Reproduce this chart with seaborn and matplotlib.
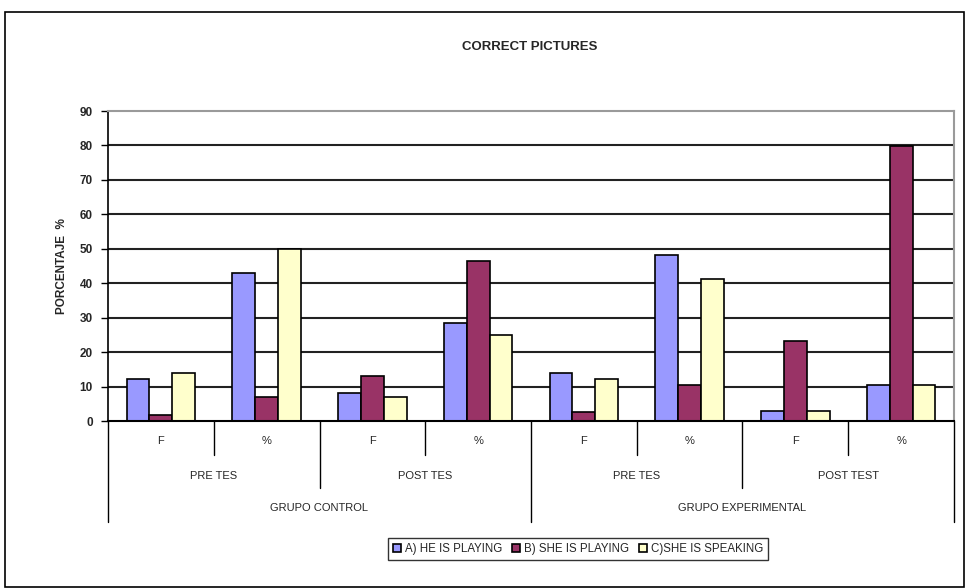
import pandas as pd
import numpy as np
import matplotlib.pyplot as plt
import seaborn as sns
from matplotlib.patches import Rectangle

# values
categories = ['GC-PRE-F', 'GC-PRE-%', 'GC-POST-F', 'GC-POST-%',
              'GE-PRE-F', 'GE-PRE-%', 'GE-POST-F', 'GE-POST-%']
level1 = ['F', '%', 'F', '%', 'F', '%', 'F', '%']
level2 = ['PRE TES', 'POST TES', 'PRE TES', 'POST TEST']
level3 = ['GRUPO CONTROL', 'GRUPO EXPERIMENTAL']
series = ['A) HE IS PLAYING', 'B) SHE IS PLAYING', 'C)SHE IS SPEAKING']
he_playing = [12.2, 43, 8, 28.5, 14, 48.3, 2.8, 10.5]
she_playing = [1.6, 6.9, 13, 46.5, 2.7, 10.5, 23.3, 79.8]
she_speaking = [13.9, 49.8, 7, 25, 12.3, 41.2, 2.8, 10.5]
colors = ['#9999FF', '#993366', '#FFFFCC']

df = pd.DataFrame({
    'cat': categories * 3,
    'serie': [series[0]] * 8 + [series[1]] * 8 + [series[2]] * 8,
    'val': he_playing + she_playing + she_speaking,
})

sns.set_style('white')
plt.rcParams['font.family'] = ['Liberation Sans', 'DejaVu Sans']

fig = plt.figure(figsize=(9.69, 5.88), dpi=100)
ax = fig.add_axes([108 / 969, 1 - 421 / 588, 846 / 969, 310 / 588])

sns.barplot(data=df, x='cat', y='val', hue='serie', order=categories,
            hue_order=series, palette=colors, saturation=1, edgecolor='black',
            linewidth=1.2, width=0.65, ax=ax, errorbar=None)

ax.set_ylim(0, 90)
ax.set_xlim(-0.5, 7.5)
ax.set_yticks(range(0, 91, 10))
ax.set_yticklabels([str(v) for v in range(0, 91, 10)], fontsize=8.5,
                   fontweight='bold')
ax.tick_params(axis='y', length=5, width=1, color='black', direction='out',
               left=True, pad=6)
ax.set_xticks([])
ax.set_xlabel('')
ax.set_ylabel('PORCENTAJE  %', fontsize=8.5, fontweight='bold', labelpad=8)
for y in range(10, 90, 10):
    ax.axhline(y, color='#222222', linewidth=1.5, zorder=0)
ax.set_axisbelow(True)
ax.spines['left'].set_color('black')
ax.spines['left'].set_linewidth(1.2)
ax.spines['bottom'].set_color('black')
ax.spines['bottom'].set_linewidth(1.5)
ax.spines['top'].set_color('#9a9a9a')
ax.spines['right'].set_color('#9a9a9a')
ax.spines['top'].set_linewidth(1.5)
ax.spines['right'].set_linewidth(1.5)
ax.legend_.remove()

# hierarchical category axis
tr = ax.get_xaxis_transform()
for i, lab in enumerate(level1):
    ax.text(i, -0.065, lab, transform=tr, ha='center', va='center', fontsize=8)
for j, lab in enumerate(level2):
    ax.text(2 * j + 0.5, -0.177, lab, transform=tr, ha='center', va='center',
            fontsize=8)
for k, lab in enumerate(level3):
    ax.text(4 * k + 1.5, -0.28, lab, transform=tr, ha='center', va='center',
            fontsize=8)
for x in np.arange(-0.5, 8, 1.0):
    if x in (-0.5, 3.5, 7.5):
        bottom = -0.326
    elif x in (1.5, 5.5):
        bottom = -0.216
    else:
        bottom = -0.11
    ax.plot([x, x], [0, bottom], transform=tr, color='black', linewidth=1,
            clip_on=False)

fig.text(530 / 969, 1 - 47 / 588, 'CORRECT PICTURES', ha='center', va='center',
         fontsize=9.5, fontweight='bold')

handles, labels = ax.get_legend_handles_labels()
leg = fig.legend(handles, series, loc='center', ncol=3,
                 bbox_to_anchor=(578 / 969, 1 - 549 / 588), fontsize=8.3,
                 frameon=True, fancybox=False, edgecolor='black',
                 handlelength=0.7, handleheight=0.7, handletextpad=0.4,
                 columnspacing=0.8, borderpad=0.4)
leg.get_frame().set_linewidth(1)

fig.patches.append(Rectangle((5 / 969, 0.002), 959 / 969, 1 - 12 / 588 - 0.002,
                             transform=fig.transFigure, fill=False,
                             edgecolor='black', linewidth=1.2))

fig.savefig('out.png', dpi=100)
